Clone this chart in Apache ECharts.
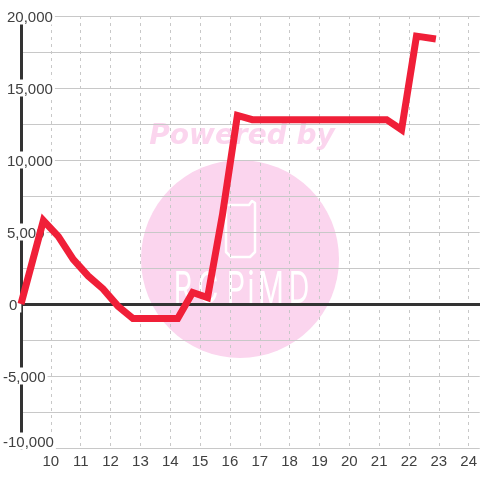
<!DOCTYPE html>
<html>
<head>
<meta charset="utf-8">
<style>
  html, body { margin: 0; padding: 0; background: #fff; }
  #chart { width: 480px; height: 480px; }
</style>
</head>
<body>
<div id="chart"></div>
<script src="https://cdn.jsdelivr.net/npm/echarts@6/dist/echarts.min.js"></script>
<script>
const hours = [9, 9.75, 10.25, 10.75, 11.25, 11.75, 12.25, 12.75, 13.25, 13.75, 14.25, 14.75, 15.25, 15.75, 16.25, 16.75, 17.25, 17.75, 18.25, 18.75, 19.25, 19.75, 20.25, 20.75, 21.25, 21.75, 22.25, 22.9]
const values = [0, 5800, 4700, 3100, 1950, 1050, -150, -1000, -1000, -1000, -1000, 800, 450, 6200, 13100, 12800, 12800, 12800, 12800, 12800, 12800, 12800, 12800, 12800, 12800, 12100, 18600, 18400]

const textColor = '#404040'
const gridColor = '#c8c8c8'
const pink = '#fbd5ee'

// watermark logo letters, squeezed and spread out one by one
const logoLetters = ['R', 'C', 'P', 'i', 'M', 'D']
const logoCenters = [183, 208, 236, 251, 271, 299]

function yLabel(value) {
  const text = value.toLocaleString('en-US')
  if (value < 0) return `{neg|${text}}`
  if (value === 0) return `{zero|${text}}`
  return `{pos|${text}}`
}

const labelStyle = { backgroundColor: '#fff', lineHeight: 14, height: 14 }

const chart = echarts.init(document.getElementById('chart'))
chart.setOption({
  animation: false,
  backgroundColor: '#fff',
  grid: { left: 19, right: 0, top: 16, bottom: 32 },
  graphic: [
    { type: 'circle', z: -1, shape: { cx: 240, cy: 259, r: 99 }, style: { fill: pink } },
    {
      type: 'text', z: -1, x: 242, y: 137,
      style: { text: 'Powered by', fill: pink, font: 'italic bold 28px "DejaVu Sans"', align: 'center', verticalAlign: 'middle' }
    },
    {
      type: 'polyline', z: -1,
      shape: { points: [[232, 205], [226, 205], [226, 252], [231, 257], [250, 257], [255, 252], [255, 203], [252, 201], [249, 205], [232, 205]] },
      style: { stroke: '#fff', fill: 'none', lineWidth: 2.5, lineJoin: 'round' }
    },
    ...logoLetters.map((letter, i) => ({
      type: 'text', z: -1, x: logoCenters[i], y: 290, scaleX: 0.65,
      style: { text: letter, fill: '#fff', font: '400 44px "Inter"', align: 'center', verticalAlign: 'middle' }
    }))
  ],
  xAxis: [
    {
      type: 'value',
      position: 'bottom',
      min: 9,
      max: 24.37,
      interval: 1,
      axisLine: { show: false, onZero: false },
      axisTick: { show: false },
      axisLabel: {
        color: textColor,
        fontFamily: 'Liberation Sans',
        fontSize: 15,
        margin: 6,
        showMaxLabel: false,
        formatter: (v) => (v === 9 ? '' : String(v))
      },
      splitLine: { showMaxLine: false, lineStyle: { color: gridColor, type: [3, 4], width: 1 } }
    },
    {
      // dark line through zero
      type: 'value',
      position: 'bottom',
      min: 9,
      max: 24.37,
      axisLine: { show: true, onZero: true, lineStyle: { color: '#333', width: 3 } },
      axisTick: { show: false },
      axisLabel: { show: false },
      splitLine: { show: false }
    }
  ],
  yAxis: {
    type: 'value',
    min: -10000,
    max: 20000,
    interval: 5000,
    axisLine: { show: true, onZero: false, lineStyle: { color: '#333', width: 3 } },
    axisTick: { show: false },
    axisLabel: {
      color: textColor,
      fontFamily: 'Liberation Sans',
      fontSize: 15,
      align: 'left',
      margin: 18,
      verticalAlignMinLabel: 'bottom',
      formatter: yLabel,
      rich: {
        pos: { ...labelStyle, padding: [3, 2, 0, 4] },
        zero: { ...labelStyle, padding: [3, 4, 0, 6] },
        neg: { ...labelStyle, padding: [3, 2, 0, 0] }
      }
    },
    splitLine: { lineStyle: { color: gridColor, width: 1 } },
    minorTick: { show: false, splitNumber: 2 },
    minorSplitLine: { show: true, lineStyle: { color: gridColor, width: 1 } }
  },
  series: [
    {
      type: 'line',
      xAxisIndex: 0,
      data: hours.map((h, i) => [h, values[i]]),
      symbol: 'none',
      clip: false,
      lineStyle: { color: '#f01f38', width: 7, join: 'miter', cap: 'butt' }
    }
  ]
})
</script>
</body>
</html>
